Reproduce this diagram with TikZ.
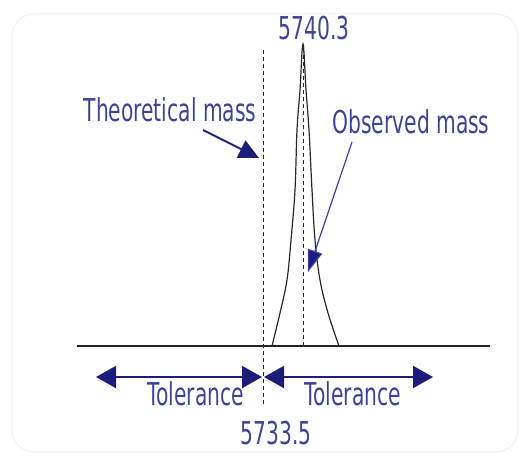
\documentclass[tikz,border=0pt]{standalone}
\usepackage{fontspec}
\setmainfont{DejaVu Sans Condensed}
\usetikzlibrary{arrows.meta}
\definecolor{txtblue}{RGB}{60,68,150}
\definecolor{navy}{RGB}{28,28,122}
\definecolor{obsblue}{RGB}{62,62,172}
\definecolor{ink}{RGB}{40,40,40}
\tikzset{
  lbl/.style={inner sep=0pt, text=txtblue, font=\fontsize{22.5}{24}\selectfont},
  guide/.style={draw=ink, line width=0.8pt, dash pattern=on 4pt off 3pt},
  tolarrow/.style={draw=navy, line width=2pt, {Triangle[length=20pt,width=22pt]}-{Triangle[length=20pt,width=22pt]}},
  bigarrow/.style={draw=navy, line width=2pt, -{Triangle[length=20pt,width=19pt]}},
  thinarrow/.style={draw=obsblue, line width=1.2pt, -{Triangle[length=22pt,width=15pt,fill=navy]}},
  peak/.style={draw=ink, line width=1.2pt},
}
\newcommand{\stretched}[1]{\scalebox{1}[1.4]{#1}}
\begin{document}
\begin{tikzpicture}[x=1pt,y=-1pt]
\useasboundingbox (0,0) rectangle (528,460);
\draw[draw=black!6, line width=1pt, rounded corners=22pt] (12,14) rectangle (518,452);
% baseline
\coordinate (bl) at (77,346);
\coordinate (br) at (490,346);
\draw[draw=ink!90!black, line width=2.5pt] (bl) -- (br);
% theoretical dashed line
\coordinate (tt) at (263,50);
\coordinate (tb) at (263,405);
\draw[guide] (tt) -- (tb);
% peak centre dashed line
\coordinate (pt) at (303,48);
\coordinate (pb) at (303,346);
\draw[guide] (pt) -- (pb);
% peak
\draw[peak] plot[smooth, tension=0.6] coordinates {(272,346) (280,313) (287,280) (291,240) (295,190) (297,130) (300,90) (303,44) (306,90) (309,130) (312,190) (315,240) (320,280) (328,313) (339,346)};
% labels
\node[lbl] (top) at (314,28) {\stretched{5740.3}};
\node[lbl] (bot) at (276,433) {\stretched{5733.5}};
\node[lbl] (theo) at (170,110) {\stretched{Theoretical mass}};
\node[lbl] (obs) at (411,122) {\stretched{Observed mass}};
\node[lbl] (tol1) at (196,394) {\stretched{Tolerance}};
\node[lbl] (tol2) at (353,394) {\stretched{Tolerance}};
% arrows
\coordinate (ta) at (203,130);
\coordinate (tz) at (259,158);
\draw[bigarrow] (ta) -- (tz);
\coordinate (oa) at (352,142);
\coordinate (oz) at (308,272);
\draw[thinarrow] (oa) -- (oz);
\coordinate (l1) at (96,377);
\coordinate (m1) at (262,377);
\coordinate (m2) at (264,377);
\coordinate (r1) at (433,377);
\draw[tolarrow] (l1) -- (m1);
\draw[tolarrow] (m2) -- (r1);
\end{tikzpicture}
\end{document}
